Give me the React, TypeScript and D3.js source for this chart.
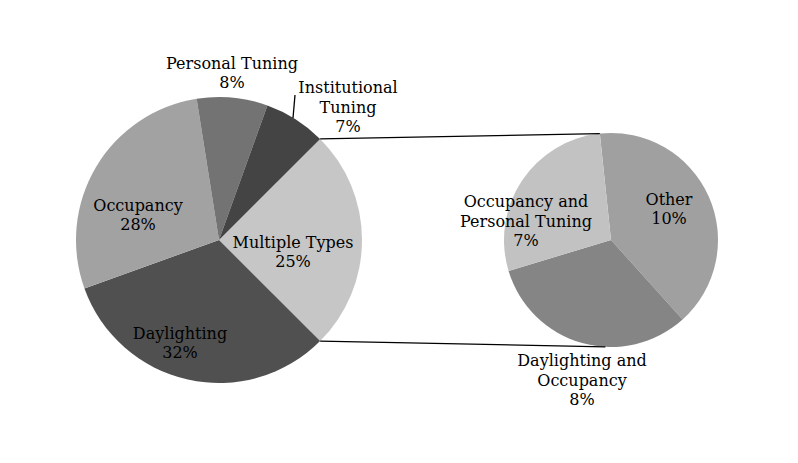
import { useEffect, useRef } from 'react'
import * as d3 from 'd3'

// main pie
const mainLabels = ['Multiple Types', 'Daylighting', 'Occupancy', 'Personal Tuning', 'Institutional Tuning']
const mainValues = [25, 32, 28, 8, 7]
const mainColors = ['#c6c6c6', '#505050', '#a2a2a2', '#737373', '#444444']

// breakdown of "Multiple Types"
const subLabels = ['Other', 'Daylighting and Occupancy', 'Occupancy and Personal Tuning']
const subValues = [10, 8, 7]
const subColors = ['#a0a0a0', '#858585', '#c2c2c2']

const W = 798
const H = 463

export default function App() {
  const svgRef = useRef<SVGSVGElement>(null)

  useEffect(() => {
    document.body.style.margin = '0'
    if (!svgRef.current) return
    const svg = d3.select(svgRef.current)
    svg.selectAll('*').remove()

    const font = '"DejaVu Serif", serif'

    const c1 = { x: 219, y: 240, r: 143 }
    const c2 = { x: 611, y: 240, r: 107 }

    const pie1 = d3.pie<number>().sort(null).value((d) => d)
      .startAngle(Math.PI / 4).endAngle(Math.PI / 4 + 2 * Math.PI)
    const subStart = (-6 * Math.PI) / 180
    const pie2 = d3.pie<number>().sort(null).value((d) => d)
      .startAngle(subStart).endAngle(subStart + 2 * Math.PI)

    const arc1 = d3.arc<d3.PieArcDatum<number>>().innerRadius(0).outerRadius(c1.r)
    const arc2 = d3.arc<d3.PieArcDatum<number>>().innerRadius(0).outerRadius(c2.r)

    const total = d3.sum(mainValues)

    // connector lines
    const pt = (c: { x: number; y: number; r: number }, a: number) =>
      [c.x + c.r * Math.sin(a), c.y - c.r * Math.cos(a)]
    const a1 = pie1(mainValues)[0]
    const top1 = pt(c1, a1.startAngle)
    const bot1 = pt(c1, a1.endAngle)
    const top2 = pt(c2, subStart)
    const bot2 = pt(c2, Math.PI + (3 * Math.PI) / 180)

    const g1 = svg.append('g').attr('transform', `translate(${c1.x},${c1.y})`)
    g1.selectAll('path')
      .data(pie1(mainValues))
      .join('path')
      .attr('d', arc1)
      .attr('fill', (_, i) => mainColors[i])

    const g2 = svg.append('g').attr('transform', `translate(${c2.x},${c2.y})`)
    g2.selectAll('path')
      .data(pie2(subValues))
      .join('path')
      .attr('d', arc2)
      .attr('fill', (_, i) => subColors[i])

    svg.append('line')
      .attr('x1', top1[0]).attr('y1', top1[1])
      .attr('x2', top2[0]).attr('y2', top2[1])
      .attr('stroke', '#000').attr('stroke-width', 1.3)
    svg.append('line')
      .attr('x1', bot1[0]).attr('y1', bot1[1])
      .attr('x2', bot2[0]).attr('y2', bot2[1])
      .attr('stroke', '#000').attr('stroke-width', 1.3)

    // leader for Institutional Tuning
    svg.append('line')
      .attr('x1', 295).attr('y1', 95)
      .attr('x2', 293).attr('y2', 118)
      .attr('stroke', '#000').attr('stroke-width', 1.3)

    const pct = (v: number, t: number) => `${Math.round((v / t) * 100)}%`

    // label positions (centre of text block)
    const mainLabelPos: [number, number][] = [
      [293, 252], [180, 343], [138, 215], [232, 73], [348, 107],
    ]
    const mainLines = [['Multiple Types'], ['Daylighting'], ['Occupancy'], ['Personal Tuning'], ['Institutional', 'Tuning']]
    const subLabelPos: [number, number][] = [
      [669, 209], [582, 380], [526, 221],
    ]
    const subLines = [['Other'], ['Daylighting and', 'Occupancy'], ['Occupancy and', 'Personal Tuning']]

    const lh = 19.5
    const drawLabel = (x: number, y: number, lines: string[]) => {
      const n = lines.length
      const t = svg.append('text')
        .attr('text-anchor', 'middle')
        .attr('font-family', font)
        .attr('font-size', 16)
        .attr('fill', '#000')
      lines.forEach((s, i) => {
        t.append('tspan')
          .attr('x', x)
          .attr('y', y - ((n - 1) * lh) / 2 + i * lh + 5.5)
          .text(s)
      })
    }

    mainValues.forEach((v, i) => {
      const [x, y] = mainLabelPos[i]
      drawLabel(x, y, [...mainLines[i], pct(v, total)])
    })
    subValues.forEach((v, i) => {
      const [x, y] = subLabelPos[i]
      drawLabel(x, y, [...subLines[i], pct(v, total)])
    })
    void mainLabels
    void subLabels
  }, [])

  return <svg ref={svgRef} width={W} height={H} style={{ display: 'block', background: '#fff' }} />
}
